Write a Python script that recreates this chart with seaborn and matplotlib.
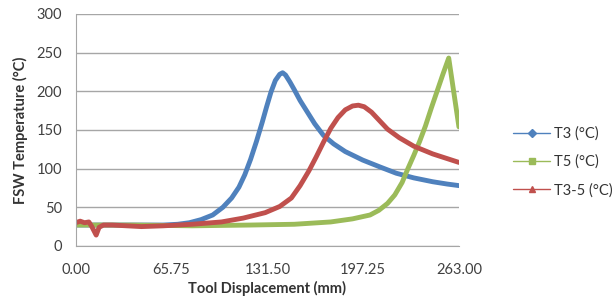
import pandas as pd
import matplotlib.pyplot as plt
from matplotlib.lines import Line2D
import seaborn as sns

sns.set_style("white")
plt.rcParams['font.family'] = ['Lato', 'DejaVu Sans']

t3_x = [0, 20, 40, 60, 70, 78, 86, 94, 101, 107, 112, 116, 120, 124, 128, 131,
        134, 137, 140, 142, 144, 147, 150, 154, 159, 164, 170, 177, 185, 197,
        209, 220, 232, 245, 255, 263]
t3_y = [27, 27, 27, 27, 28, 30, 34, 40, 50, 62, 76, 92, 112, 135, 160, 180,
        199, 214, 222, 224, 221, 212, 202, 188, 173, 158, 143, 132, 122, 111,
        102, 94, 88, 83, 80, 78]

t5_x = [0, 40, 80, 120, 150, 175, 190, 202, 208, 214, 219, 224, 228, 232, 236,
        240, 244, 248, 252, 256, 263]
t5_y = [27, 27, 26, 27, 28, 31, 35, 40, 46, 55, 66, 82, 100, 117, 135,
        155, 178, 200, 222, 243, 154]

t35_x = [0, 3, 6, 9, 11, 14, 16, 19, 25, 35, 45, 60, 80, 100, 115, 130, 140,
         148, 154, 160, 165, 170, 175, 180, 185, 190, 194, 198, 203, 208, 214,
         222, 232, 245, 263]
t35_y = [30, 32, 30, 31, 25, 14, 24, 27, 27, 26, 25, 26, 28, 31, 36, 43, 51,
         62, 78, 97, 115, 134, 152, 166, 176, 181, 182, 180, 173, 163, 151,
         140, 129, 119, 108]

series = ["T3 (°C)", "T5 (°C)", "T3-5 (°C)"]
colors = ["#4F81BD", "#9BBB59", "#C0504D"]
markers = ["D", "s", "^"]

df = pd.concat([
    pd.DataFrame({"x": t3_x, "y": t3_y, "s": series[0]}),
    pd.DataFrame({"x": t5_x, "y": t5_y, "s": series[1]}),
    pd.DataFrame({"x": t35_x, "y": t35_y, "s": series[2]}),
], ignore_index=True)

fig = plt.figure(figsize=(6.16, 2.97), dpi=100)
ax = fig.add_axes([0.123, 0.172, 0.622, 0.781])

sns.lineplot(data=df, x="x", y="y", hue="s", palette=colors, sort=False,
             linewidth=3.5, legend=False, ax=ax)

ax.set_xlim(0, 263)
ax.set_ylim(0, 300)
ax.set_xticks([0, 65.75, 131.5, 197.25, 263])
ax.set_xticklabels(["0.00", "65.75", "131.50", "197.25", "263.00"])
ax.set_yticks(range(0, 301, 50))
ax.tick_params(labelsize=10.5, colors="#404040", length=0)
ax.tick_params(axis="x", pad=12)
ax.tick_params(axis="y", pad=10)
ax.yaxis.grid(True, color="#a6a6a6", linewidth=1)
for side in ["top", "right"]:
    ax.spines[side].set_visible(False)
for side in ["left", "bottom"]:
    ax.spines[side].set_color("#a6a6a6")

ax.set_xlabel("Tool Displacement (mm)", fontsize=10.5, fontweight="bold",
              color="#333333", labelpad=3)
ax.set_ylabel("FSW Temperature (°C)", fontsize=10.5, fontweight="bold",
              color="#333333", labelpad=6)

handles = [Line2D([0], [0], color=c, marker=m, markersize=4, linewidth=1)
           for c, m in zip(colors, markers)]
fig.legend(handles, series, loc="center left", bbox_to_anchor=(0.812, 0.455),
           frameon=False, fontsize=10.5, handlelength=2.5, labelspacing=0.95,
           handletextpad=0.3, labelcolor="#333333")

fig.savefig("out.png", dpi=100)
